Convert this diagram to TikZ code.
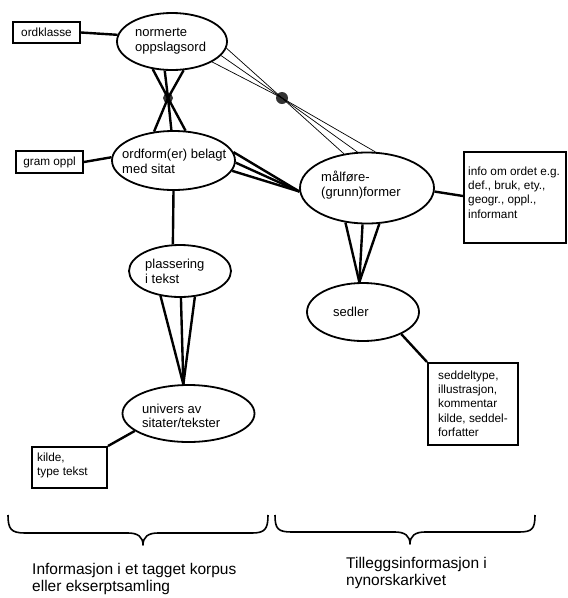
\documentclass[tikz,border=0pt]{standalone}
\usepackage{fontspec}
\setmainfont{Liberation Sans}
\usetikzlibrary{shapes.geometric}
\begin{document}
\begin{tikzpicture}[x=1pt,y=-1pt,
  ell/.style={draw, ellipse, line width=1.8pt, inner sep=0pt},
  box/.style={draw, rectangle, line width=2pt, inner sep=0pt, font=\fontsize{11.8}{14.3}\selectfont},
  etext/.style={anchor=west, inner sep=0pt, align=left, font=\fontsize{13}{14.5}\selectfont},
  btext/.style={anchor=west, inner sep=0pt, align=left, font=\fontsize{11.8}{14.3}\selectfont},
  ltext/.style={anchor=west, inner sep=0pt, align=left, font=\fontsize{15.5}{17}\selectfont},
  heavy/.style={line width=2.4pt},
  light/.style={line width=0.7pt},
  brace/.style={line width=1.6pt, line join=round},
  dot/.style={circle, fill=black!80, inner sep=0pt, minimum size=#1}
]
\useasboundingbox (0,0) rectangle (568,598);

% ellipses
\node[ell, minimum width=110pt, minimum height=57pt] (N) at (172,41.5) {};
\node[ell, minimum width=123pt, minimum height=59pt] (O) at (173.5,160.5) {};
\node[ell, minimum width=134pt, minimum height=71pt] (M) at (367,188) {};
\node[ell, minimum width=102pt, minimum height=52pt] (P) at (180,271) {};
\node[ell, minimum width=112pt, minimum height=58pt] (S) at (363,312) {};
\node[ell, minimum width=132pt, minimum height=57pt] (U) at (188.5,413.5) {};

% ellipse texts
\node[etext] (Nt) at (135,41) {normerte\\oppslagsord};
\node[etext] (Ot) at (122,161.5) {ordform(er) belagt\\med sitat};
\node[etext] (Mt) at (321,185) {målføre-\\(grunn)former};
\node[etext] (Pt) at (145,271.5) {plassering\\i tekst};
\node[etext] (St) at (333,312) {sedler};
\node[etext] (Ut) at (142,416) {univers av\\sitater/tekster};

% boxes
\node[box, minimum width=67pt, minimum height=21pt] (B1) at (46.5,32.5) {ordklasse};
\node[box, minimum width=67pt, minimum height=22pt] (B2) at (49.5,162) {gram oppl};
\node[box, minimum width=102pt, minimum height=91pt] (B3) at (515,197.5) {};
\node[box, minimum width=90pt, minimum height=82pt] (B4) at (473,404) {};
\node[box, minimum width=75pt, minimum height=41pt] (B5) at (69.5,467.5) {};

\node[btext] (B3t) at (468,192.5) {info om ordet e.g.\\def., bruk, ety.,\\geogr., oppl.,\\informant};
\node[btext] (B4t) at (438,403.5) {seddeltype,\\illustrasjon,\\kommentar\\kilde, seddel-\\forfatter};
\node[btext] (B5t) at (37,465.5) {kilde,\\type tekst};

% dots
\node[dot=10pt] (d1) at (168,98) {};
\node[dot=12pt] (d2) at (282,98) {};

% box links
\draw[heavy] (B1.east) -- (N.173);
\draw[heavy] (B2.east) -- (O.177);
\draw[heavy] (M.357) -- (B3.west |- 0,196);
\draw[heavy] (S.330) -- (B4.north west);
\draw[heavy] (U.198) -- (B5.north east);

% cross between N and O
\draw[heavy] (N.235) -- (d1.center) -- (O.68);
\draw[heavy] (N.292) -- (d1.center) -- (O.124.6);
\draw[heavy] (N.256) -- (d1.center) -- (O.94);

% thin lines N -> d2 -> M
\draw[light] (N.353) -- (d2.center);
\draw[light] (N.344) -- (d2.center);
\draw[light] (N.333) -- (d2.center);
\draw[light] (d2.center) -- (M.124.8);
\draw[light] (d2.center) -- (M.105.5);
\draw[light] (d2.center) -- (M.77.5);

% O -> M
\coordinate (mL) at (M.183);
\draw[heavy] (O.8.5) -- (mL);
\draw[heavy] (O.358) -- (mL);
\draw[heavy] (O.350) -- (mL);

% O -> P
\draw[heavy] (O.south) -- (P.105);

% M -> S
\coordinate (sT) at (S.97);
\draw[heavy] (M.238) -- (sT);
\draw[heavy] (M.263) -- (sT);
\draw[heavy] (M.289) -- (sT);

% P -> U
\coordinate (uT) at (U.100);
\draw[heavy] (P.232) -- (uT);
\draw[heavy] (P.272) -- (uT);
\draw[heavy] (P.300) -- (uT);

% braces
\draw[brace] (8,515) .. controls (8,529) and (11,533) .. (25,533) -- (128,533)
  .. controls (138,533) and (143,537) .. (143,545)
  .. controls (143,537) and (148,533) .. (158,533) -- (252,533)
  .. controls (265,533) and (268,529) .. (268,515);
\draw[brace] (275,515) .. controls (275,529) and (278,532) .. (292,532) -- (395,532)
  .. controls (405,532) and (410,536) .. (410,544)
  .. controls (410,536) and (415,532) .. (425,532) -- (519,532)
  .. controls (532,532) and (535,529) .. (535,515);

% bottom labels
\node[ltext] (L1) at (32,578.5) {Informasjon i et tagget korpus\\eller ekserptsamling};
\node[ltext] (L2) at (346,572.5) {Tilleggsinformasjon i\\nynorskarkivet};
\end{tikzpicture}
\end{document}
